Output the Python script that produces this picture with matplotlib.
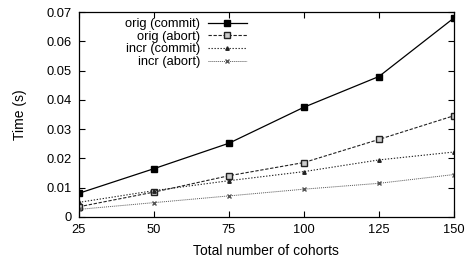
import matplotlib
matplotlib.use("Agg")
import matplotlib.pyplot as plt

# data
cohorts = [25, 50, 75, 100, 125, 150]
orig_commit = [0.0081, 0.0165, 0.0252, 0.0375, 0.0480, 0.0680]
orig_abort = [0.0035, 0.0085, 0.0141, 0.0186, 0.0265, 0.0346]
incr_commit = [0.0050, 0.0090, 0.0124, 0.0155, 0.0195, 0.0222]
incr_abort = [0.0026, 0.0049, 0.0072, 0.0095, 0.0115, 0.0145]

plt.rcParams['font.family'] = ['Liberation Sans', 'DejaVu Sans']
plt.rcParams['font.size'] = 8

fig = plt.figure(figsize=(4.67, 2.58), dpi=100)
ax = fig.add_axes([0.169, 0.159, 0.803, 0.794])

ax.plot(cohorts, orig_commit, color="black", linestyle="-", linewidth=0.9,
        marker="s", markersize=4.5, label="orig (commit)")
ax.plot(cohorts, orig_abort, color="#222222", linestyle=(0, (3, 1.5)), linewidth=0.8,
        marker="s", markersize=4, markerfacecolor="#cccccc", label="orig (abort)")
ax.plot(cohorts, incr_commit, color="#222222", linestyle=(0, (1.2, 1.5)), linewidth=0.8,
        marker="^", markersize=2.5, label="incr (commit)")
ax.plot(cohorts, incr_abort, color="#555555", linestyle=(0, (1, 1)), linewidth=0.7,
        marker="x", markersize=3.5, label="incr (abort)")

ax.set_xlim(25, 150)
ax.set_ylim(0, 0.07)
ax.set_xticks(cohorts)
ax.set_yticks([0, 0.01, 0.02, 0.03, 0.04, 0.05, 0.06, 0.07])
ax.set_yticklabels(["0", "0.01", "0.02", "0.03", "0.04", "0.05", "0.06", "0.07"])
ax.tick_params(direction="in", top=True, right=True, length=4, width=0.8, labelsize=9.3, pad=5)
for s in ax.spines.values():
    s.set_linewidth(0.9)

ax.set_xlabel("Total number of cohorts", fontsize=10, labelpad=6)
ax.set_ylabel("Time (s)", fontsize=10, labelpad=14)

ax.legend(loc="upper right", bbox_to_anchor=(0.458, 0.99), frameon=False, markerfirst=False,
          fontsize=9.3, handlelength=3.0, handletextpad=0.6, labelspacing=0.05,
          borderaxespad=0.0, borderpad=0.3)

fig.savefig("out.png", dpi=100)
